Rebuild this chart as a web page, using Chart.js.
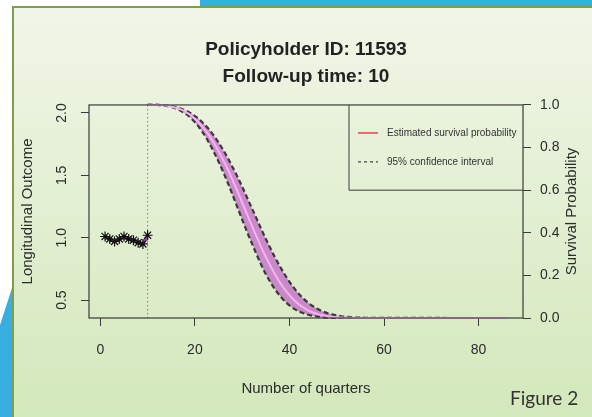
<!DOCTYPE html>
<html>
<head>
<meta charset="utf-8">
<script src="https://cdn.jsdelivr.net/npm/chart.js@4.4.0/dist/chart.umd.min.js"></script>
<style>
  html, body { margin: 0; padding: 0; background: #fff; }
  #page { position: relative; width: 592px; height: 417px; overflow: hidden; }
  .topband { position: absolute; left: 200px; top: 0; width: 392px; height: 7px; background: #38ade0; }
  .panel {
    position: absolute; left: 12px; top: 6px; right: 0; bottom: 0;
    border-left: 2px solid #7f9d4c; border-top: 2px solid #7f9d4c;
    background: linear-gradient(#f1f6e8, #d3e8bb);
  }
  .corner {
    position: absolute; left: 0; top: 285px; width: 13px; height: 132px; background: #38ade0;
    clip-path: polygon(0 40px, 100% 0, 100% 100%, 0 100%);
  }
  canvas { position: absolute; left: 0; top: 0; }
</style>
</head>
<body>
<div id="page">
  <div class="topband"></div>
  <div class="corner"></div>
  <div class="panel"></div>
  <canvas id="survChart" width="592" height="417"></canvas>
</div>
<script>
// Longitudinal outcome, observed quarters 1..10
const obsTime = [1, 2, 3, 4, 5, 6, 7, 8, 9, 10];
const obsValue = [1.01, 0.99, 0.97, 0.99, 1.01, 0.99, 0.98, 0.96, 0.95, 1.02];

// Predicted survival from follow-up time (quarter 10) onwards
const survTime = [10, 11, 12, 13, 14, 15, 16, 17, 18, 19, 20, 21, 22, 23, 24, 25, 26, 27, 28, 29,
  30, 31, 32, 33, 34, 35, 36, 37, 38, 39, 40, 41, 42, 43, 44, 45, 46, 47, 48, 49,
  50, 51, 52, 53, 54, 55, 56, 86];
const survEst = [1, 1, 1, 0.999, 0.997, 0.992, 0.987, 0.979, 0.968, 0.954,
  0.935, 0.913, 0.887, 0.857, 0.822, 0.783, 0.741, 0.695, 0.646, 0.595,
  0.542, 0.489, 0.436, 0.384, 0.334, 0.287, 0.244, 0.203, 0.166, 0.135,
  0.107, 0.083, 0.064, 0.048, 0.035, 0.026, 0.018, 0.013, 0.008, 0.006,
  0.004, 0.002, 0.001, 0.001, 0, 0, 0, 0];
const survLower = [1, 1, 1, 0.998, 0.996, 0.991, 0.983, 0.973, 0.959, 0.942,
  0.919, 0.892, 0.860, 0.822, 0.780, 0.734, 0.685, 0.632, 0.576, 0.519,
  0.462, 0.406, 0.353, 0.301, 0.251, 0.206, 0.167, 0.133, 0.104, 0.079,
  0.059, 0.043, 0.031, 0.022, 0.015, 0.010, 0.006, 0.004, 0.002, 0.001,
  0.001, 0, 0, 0, 0, 0, 0, 0];
const survUpper = [1, 1, 1, 0.999, 0.997, 0.994, 0.990, 0.983, 0.974, 0.963,
  0.948, 0.931, 0.909, 0.885, 0.856, 0.824, 0.788, 0.749, 0.707, 0.663,
  0.616, 0.567, 0.518, 0.469, 0.419, 0.371, 0.326, 0.282, 0.242, 0.204,
  0.170, 0.140, 0.113, 0.090, 0.071, 0.055, 0.042, 0.031, 0.023, 0.017,
  0.012, 0.008, 0.006, 0.004, 0.002, 0.002, 0.001, 0];

// Axis ticks
const quarterTicks = [0, 20, 40, 60, 80];
const outcomeTicks = [0.5, 1.0, 1.5, 2.0];
const survTicks = [0, 0.2, 0.4, 0.6, 0.8, 1.0];
const followUp = 10;

const FONT = "'Liberation Sans', Arial, Helvetica, sans-serif";
const INK = '#2b2b2b';

Chart.defaults.font.family = FONT;
Chart.defaults.color = INK;

function toPoints(xs, ys) {
    return xs.map((x, i) => ({ x: x, y: ys[i] }));
}

// Box, rotated labels, legend and the slide caption
const rPlotExtras = {
    id: 'rPlotExtras',
    beforeDatasetsDraw(chart) {
        const { ctx, chartArea: a, scales } = chart;
        const xf = scales.x.getPixelForValue(followUp);
        ctx.save();
        ctx.strokeStyle = '#808080';
        ctx.lineWidth = 1;
        ctx.setLineDash([1.5, 2.5]);
        ctx.beginPath();
        ctx.moveTo(xf, a.top);
        ctx.lineTo(xf, a.bottom);
        ctx.stroke();
        ctx.restore();
    },
    afterDraw(chart) {
        const { ctx, chartArea: a, scales } = chart;
        ctx.save();

        // plot box
        ctx.strokeStyle = '#3a3a3a';
        ctx.lineWidth = 1.2;
        ctx.strokeRect(a.left, a.top, a.right - a.left, a.bottom - a.top);

        // left axis labels, parallel to the axis
        ctx.fillStyle = INK;
        ctx.font = '14px ' + FONT;
        ctx.textAlign = 'center';
        ctx.textBaseline = 'middle';
        scales.y.ticks.forEach(t => {
            const yy = scales.y.getPixelForValue(t.value);
            ctx.save();
            ctx.translate(62, yy);
            ctx.rotate(-Math.PI / 2);
            ctx.fillText(t.value.toFixed(1), 0, 0);
            ctx.restore();
        });

        // right axis title reads bottom to top, like the left one
        ctx.save();
        ctx.font = '15px ' + FONT;
        ctx.translate(572, (a.top + a.bottom) / 2);
        ctx.rotate(-Math.PI / 2);
        ctx.fillText('Survival Probability', 0, 0);
        ctx.restore();

        // legend box in the top right corner
        const lx = a.right - 174;
        const lb = scales.y2.getPixelForValue(0.6);
        ctx.strokeStyle = '#3a3a3a';
        ctx.lineWidth = 1;
        ctx.beginPath();
        ctx.moveTo(lx, a.top);
        ctx.lineTo(lx, lb);
        ctx.lineTo(a.right, lb);
        ctx.stroke();

        ctx.font = '10px ' + FONT;
        ctx.textAlign = 'left';
        ctx.fillStyle = '#333';
        ctx.strokeStyle = '#ea6a70';
        ctx.lineWidth = 2;
        ctx.beginPath();
        ctx.moveTo(lx + 9, a.top + 28);
        ctx.lineTo(lx + 29, a.top + 28);
        ctx.stroke();
        ctx.fillText(chart.data.datasets[2].label, lx + 38, a.top + 28);

        ctx.strokeStyle = '#444';
        ctx.lineWidth = 1.2;
        ctx.setLineDash([3, 3]);
        ctx.beginPath();
        ctx.moveTo(lx + 9, a.top + 57);
        ctx.lineTo(lx + 29, a.top + 57);
        ctx.stroke();
        ctx.setLineDash([]);
        ctx.fillText('95% confidence interval', lx + 38, a.top + 57);

        // slide caption
        ctx.font = "19px Lato, 'Open Sans', sans-serif";
        ctx.textBaseline = 'alphabetic';
        ctx.fillStyle = '#333';
        ctx.fillText('Figure 2', 510, 405);
        ctx.restore();
    }
};

const ctx = document.getElementById('survChart').getContext('2d');
const survChart = new Chart(ctx, {
    type: 'line',
    data: {
        datasets: [
            {
                label: '95% upper',
                data: toPoints(survTime, survUpper),
                yAxisID: 'y2',
                borderColor: '#3a3a3a',
                borderWidth: 2.2,
                borderDash: [5, 3],
                backgroundColor: 'rgba(192, 96, 200, 0.7)',
                fill: '+1',
                pointRadius: 0,
                cubicInterpolationMode: 'monotone',
                clip: false,
                order: 3
            },
            {
                label: '95% lower',
                data: toPoints(survTime, survLower),
                yAxisID: 'y2',
                borderColor: '#3a3a3a',
                borderWidth: 2.2,
                borderDash: [5, 3],
                fill: false,
                pointRadius: 0,
                cubicInterpolationMode: 'monotone',
                clip: false,
                order: 2
            },
            {
                label: 'Estimated survival probability',
                data: toPoints(survTime, survEst),
                yAxisID: 'y2',
                borderColor: '#f7b2f0',
                borderWidth: 2,
                fill: false,
                pointRadius: 0,
                cubicInterpolationMode: 'monotone',
                clip: false,
                order: 1
            },
            {
                label: 'Longitudinal outcome',
                data: toPoints(obsTime, obsValue),
                yAxisID: 'y',
                borderColor: '#9a3fb0',
                borderWidth: 3,
                fill: false,
                tension: 0,
                pointStyle: 'star',
                pointRadius: 5,
                pointBorderColor: '#111',
                pointBackgroundColor: '#111',
                pointBorderWidth: 1.2,
                order: 0
            }
        ]
    },
    options: {
        responsive: false,
        animation: false,
        events: [],
        layout: { padding: { left: 20, right: 0, top: 0, bottom: 0 } },
        plugins: {
            legend: { display: false },
            tooltip: { enabled: false },
            title: {
                display: true,
                text: ['Policyholder ID: 11593', 'Follow-up time: 10'],
                color: '#222',
                font: { size: 19, weight: 'bold', lineHeight: 1.42 },
                padding: { top: 36, bottom: 15 }
            }
        },
        scales: {
            x: {
                type: 'linear',
                position: 'bottom',
                min: -2.4,
                max: 89.4,
                afterBuildTicks: s => { s.ticks = quarterTicks.map(v => ({ value: v })); },
                afterFit: s => { s.height = 99; },
                ticks: { font: { size: 14 }, color: INK, padding: 16, maxRotation: 0 },
                grid: { drawOnChartArea: false, drawTicks: true, tickLength: 8, color: '#3a3a3a' },
                border: { display: false },
                title: {
                    display: true,
                    text: 'Number of quarters',
                    font: { size: 15 },
                    color: INK,
                    padding: { top: 0, bottom: 19 }
                }
            },
            y: {
                type: 'linear',
                position: 'left',
                min: 0.3567,
                max: 2.064,
                afterBuildTicks: s => { s.ticks = outcomeTicks.map(v => ({ value: v })); },
                afterFit: s => { s.width = 69; },
                ticks: { color: 'transparent', font: { size: 14 } },
                grid: { drawOnChartArea: false, drawTicks: true, tickLength: 8, color: '#3a3a3a' },
                border: { display: false },
                title: {
                    display: true,
                    text: 'Longitudinal Outcome',
                    font: { size: 15, lineHeight: 1.0 },
                    color: INK,
                    padding: { top: 0, bottom: 0 }
                }
            },
            y2: {
                type: 'linear',
                position: 'right',
                min: 0,
                max: 1,
                afterBuildTicks: s => { s.ticks = survTicks.map(v => ({ value: v })); },
                afterFit: s => { s.width = 69; },
                ticks: { font: { size: 14 }, color: INK, padding: 9, callback: v => v.toFixed(1) },
                grid: { drawOnChartArea: false, drawTicks: true, tickLength: 8, color: '#3a3a3a' },
                border: { display: false },
                title: { display: false }
            }
        }
    },
    plugins: [rPlotExtras]
});
</script>
</body>
</html>
